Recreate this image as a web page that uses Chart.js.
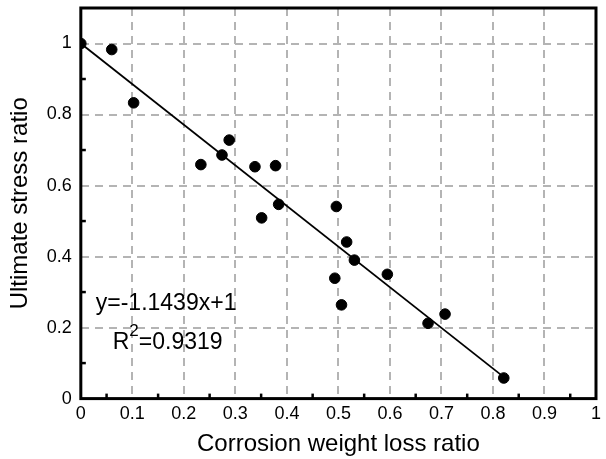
<!DOCTYPE html>
<html>
<head>
<meta charset="utf-8">
<script src="https://cdn.jsdelivr.net/npm/chart.js@4"></script>
<style>
  html, body { margin: 0; padding: 0; background: #fff; }
  #wrap { width: 606px; height: 459px; }
</style>
</head>
<body>
<div id="wrap"><canvas id="chart" width="606" height="459"></canvas></div>
<script>
// measured points
const lossRatio = [0, 0.06, 0.1025, 0.233, 0.274, 0.288, 0.338, 0.378, 0.351, 0.384,
                   0.496, 0.516, 0.531, 0.493, 0.506, 0.595, 0.674, 0.707, 0.821];
const stressRatio = [1.0, 0.983, 0.833, 0.659, 0.686, 0.728, 0.653, 0.656, 0.509, 0.547,
                     0.541, 0.441, 0.390, 0.339, 0.264, 0.350, 0.212, 0.238, 0.058];
// fitted line ends
const fitX = [0, 0.82];
const fitY = [1, 0.062];
const fitLabel = 'y=-1.1439x+1';
const r2Label = '0.9319';

const FONT = 'Liberation Sans, Arial, sans-serif';
const isMult = (v, step) => Math.abs(Math.round(v / step) * step - v) < 1e-6;

// frame + inward minor ticks + equation text
const framePlugin = {
    id: 'frame',
    afterDatasetsDraw(chart) {
        const { ctx, chartArea: a, scales } = chart;
        ctx.save();
        ctx.strokeStyle = '#000';
        ctx.lineWidth = 2.5;
        for (let v = 0.05; v < 1; v += 0.1) {
            const px = scales.x.getPixelForValue(v);
            ctx.beginPath();
            ctx.moveTo(px, a.bottom);
            ctx.lineTo(px, a.bottom - 5);
            ctx.stroke();
        }
        for (let v = 0.1; v < 1.05; v += 0.2) {
            const py = scales.y.getPixelForValue(v);
            ctx.beginPath();
            ctx.moveTo(a.left, py);
            ctx.lineTo(a.left + 5, py);
            ctx.stroke();
        }
        ctx.lineWidth = 3;
        ctx.strokeRect(a.left, a.top, a.right - a.left, a.bottom - a.top);

        // equation
        ctx.fillStyle = '#000';
        ctx.textBaseline = 'middle';
        ctx.font = '23px ' + FONT;
        const tx = scales.x.getPixelForValue(0.029);
        ctx.fillText(fitLabel, tx, scales.y.getPixelForValue(0.266));
        const rx = scales.x.getPixelForValue(0.062);
        const ry = scales.y.getPixelForValue(0.158);
        ctx.fillText('R', rx, ry);
        const rw = ctx.measureText('R').width;
        ctx.font = '17px ' + FONT;
        ctx.fillText('2', rx + rw, ry - 11);
        const sw = ctx.measureText('2').width;
        ctx.font = '23px ' + FONT;
        ctx.fillText('=' + r2Label, rx + rw + sw, ry);
        ctx.restore();
    }
};

new Chart(document.getElementById('chart'), {
    type: 'scatter',
    data: {
        datasets: [{
            label: 'data',
            data: lossRatio.map((x, i) => ({ x, y: stressRatio[i] })),
            backgroundColor: '#000',
            borderColor: '#000',
            pointRadius: 5.3
        }, {
            type: 'line',
            label: 'fit',
            data: fitX.map((x, i) => ({ x, y: fitY[i] })),
            borderColor: '#000',
            borderWidth: 1.8,
            pointRadius: 0,
            fill: false
        }]
    },
    options: {
        responsive: false,
        animation: false,
        layout: { padding: { top: 8, right: 6, left: 6, bottom: 0 } },
        plugins: { legend: { display: false }, tooltip: { enabled: false } },
        scales: {
            x: {
                type: 'linear',
                min: 0, max: 1,
                border: { display: false, dash: [8, 6] },
                ticks: {
                    stepSize: 0.05,
                    autoSkip: false,
                    maxRotation: 0,
                    color: '#000',
                    padding: 5,
                    font: { family: FONT, size: 18 },
                    callback: v => isMult(v, 0.1) ? String(Math.round(v * 10) / 10) : ''
                },
                grid: {
                    drawTicks: false,
                    lineWidth: 2,
                    color: c => (isMult(c.tick.value, 0.1) && c.tick.value > 0.01 && c.tick.value < 0.99) ? '#b4b4b4' : 'rgba(0,0,0,0)'
                },
                title: {
                    display: true,
                    text: 'Corrosion weight loss ratio',
                    color: '#000',
                    font: { family: FONT, size: 24 },
                    padding: { top: 0, bottom: 0 }
                }
            },
            y: {
                type: 'linear',
                min: 0, max: 1.1,
                border: { display: false, dash: [8, 6] },
                afterFit: s => { s.paddingTop = 0; },
                ticks: {
                    stepSize: 0.1,
                    autoSkip: false,
                    color: '#000',
                    padding: 9,
                    font: { family: FONT, size: 18 },
                    callback: v => (isMult(v, 0.2) && v < 1.05) ? String(Math.round(v * 10) / 10) : ''
                },
                grid: {
                    drawTicks: false,
                    lineWidth: 2,
                    color: c => (isMult(c.tick.value, 0.2) && c.tick.value > 0.01 && c.tick.value < 1.05) ? '#b4b4b4' : 'rgba(0,0,0,0)'
                },
                title: {
                    display: true,
                    text: 'Ultimate stress ratio',
                    color: '#000',
                    font: { family: FONT, size: 24 },
                    padding: { top: 0, bottom: 3 }
                }
            }
        }
    },
    plugins: [framePlugin]
});
</script>
</body>
</html>
